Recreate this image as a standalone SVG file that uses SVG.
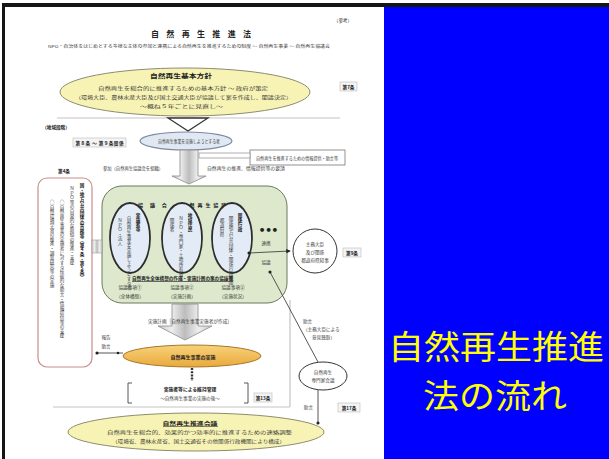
<svg xmlns="http://www.w3.org/2000/svg" width="609" height="459" viewBox="0 0 609 459">
<style>
text{font-family:"Noto Sans CJK JP","Noto Sans CJK SC",sans-serif;fill:#3a3a3a}
.t{font-size:4.6px}
.b{font-weight:bold;fill:#222}
.m{text-anchor:middle}
.v{writing-mode:vertical-rl;font-size:4.6px}
.ln{stroke:#444;stroke-width:0.9;fill:none}
.fr{stroke:#c4c4c4;stroke-width:1.2;fill:none}
.lab{fill:#f4f4f4;stroke:#bbb;stroke-width:0.6}
.ve{fill:#e3ecf6;stroke:#2d2d2d;stroke-width:1.8}
.big{font-size:32.5px;fill:#ffff00;text-anchor:middle}
</style>
<defs>
<linearGradient id="ga" x1="0" y1="0" x2="1" y2="0">
<stop offset="0" stop-color="#c8c8c8"/><stop offset="0.25" stop-color="#eeeeee"/><stop offset="0.5" stop-color="#bcbcbc"/><stop offset="0.75" stop-color="#eeeeee"/><stop offset="1" stop-color="#c8c8c8"/>
</linearGradient>
<linearGradient id="go" x1="0" y1="0" x2="0" y2="1">
<stop offset="0" stop-color="#f7d27a"/><stop offset="1" stop-color="#eaa93c"/>
</linearGradient>
<marker id="ar" viewBox="0 0 6 6" refX="5" refY="3" markerWidth="5" markerHeight="5" orient="auto"><path d="M0,0L6,3L0,6z" fill="#222"/></marker>
<marker id="dt" viewBox="0 0 6 6" refX="3" refY="3" markerWidth="4" markerHeight="4"><circle cx="3" cy="3" r="2.6" fill="#222"/></marker>
</defs>

<rect x="0" y="0" width="609" height="459" fill="#ffffff"/>
<rect x="2" y="3" width="607" height="4" fill="#151515"/>
<rect x="2" y="3" width="3" height="456" fill="#151515"/>

<g id="panel">
<rect x="384" y="7" width="225" height="452" fill="#0000ff"/>
<text x="496" y="359" class="big" textLength="216" lengthAdjust="spacingAndGlyphs">自然再生推進</text>
<text x="495" y="407.5" class="big" textLength="144" lengthAdjust="spacingAndGlyphs">法の流れ</text>
</g>

<g id="header">
<text x="343" y="22" class="t m">（参考）</text>
<text x="201" y="37" class="b m" style="font-size:8px" textLength="100" lengthAdjust="spacing">自然再生推進法</text>
<text x="48" y="48" class="t" style="font-size:4px" textLength="282" lengthAdjust="spacingAndGlyphs">NPO・自治体をはじめとする多様な主体の参加と連携による自然再生を推進するための制度 ～ 自然再生事業 ～ 自然再生協議会</text>
</g>

<g id="frames">
<line x1="57" y1="118" x2="340" y2="118" class="fr"/>
<line x1="53" y1="407" x2="290" y2="407" class="fr"/>
<line x1="290" y1="300" x2="290" y2="407" class="fr"/>
</g>

<g id="kihon-hoshin">
<ellipse cx="185" cy="92" rx="125" ry="24" fill="#f7f3b4" stroke="#8d8c6e" stroke-width="1"/>
<text x="181" y="78" class="b m" style="font-size:6px" textLength="62" lengthAdjust="spacingAndGlyphs">自然再生基本方針</text>
<text x="98" y="90" class="t" textLength="170" lengthAdjust="spacingAndGlyphs">自然再生を総合的に推進するための基本方針 ～ 政府が策定</text>
<text x="75" y="99" class="t" textLength="217" lengthAdjust="spacingAndGlyphs">（環境大臣、農林水産大臣及び国土交通大臣が協議して案を作成し、閣議決定）</text>
<text x="140" y="108" class="t" textLength="83" lengthAdjust="spacingAndGlyphs">～概ね５年ごとに見直し～</text>
<rect x="340" y="82" width="17" height="9" class="lab"/>
<text x="348.5" y="89" class="t m b">第7条</text>
</g>

<g id="triangle">
<path d="M168,118L208,118L188,131Z" fill="#ffffff" stroke="#333" stroke-width="1.3"/>
</g>

<g id="chiiki">
<text x="56" y="129" class="t m b">（地域段階）</text>
<rect x="73" y="138" width="53" height="9" class="lab"/>
<text x="99.5" y="145" class="t m b" textLength="48" lengthAdjust="spacing">第８条 ～ 第９条関係</text>
</g>

<g id="jisshisha">
<ellipse cx="186" cy="141" rx="46" ry="9" fill="#dfe8f3" stroke="#7a8aa0" stroke-width="1.2"/>
<text x="158" y="143" class="t" textLength="62" lengthAdjust="spacingAndGlyphs">自然再生事業を実施しようとする者</text>
</g>

<g id="joho">
<rect x="250" y="150" width="95" height="15" fill="#ffffff" stroke="#777" stroke-width="0.8"/>
<text x="256" y="159.5" class="t" textLength="82" lengthAdjust="spacingAndGlyphs">自然再生を推進するための情報提供・助言等</text>
</g>

<g id="kyogikai">
<rect x="102" y="186" width="185" height="117" rx="20" fill="#dde8cd" stroke="#6c7a5e" stroke-width="1"/>
<text x="190" y="207" class="b m" style="font-size:5px" textLength="104" lengthAdjust="spacing">協 議 会 （自然再生協議会）</text>
<ellipse cx="130" cy="238" rx="20" ry="35" class="ve"/>
<ellipse cx="182" cy="238" rx="20" ry="35" class="ve"/>
<ellipse cx="232" cy="238" rx="20" ry="35" class="ve"/>
<text x="138" y="213" class="v b">実施者等</text>
<text x="129" y="216" class="v">自然再生事業を実施しようとする者</text>
<text x="120" y="218" class="v">ＮＰＯ・法人</text>
<text x="190" y="213" class="v b">地域住民</text>
<text x="181" y="216" class="v">ＮＰＯ・専門家・土地所有者等</text>
<text x="172" y="218" class="v">関係者</text>
<text x="240" y="213" class="v b">関係行政</text>
<text x="231" y="216" class="v">関係地方公共団体・関係行政機関</text>
<text x="222" y="218" class="v">都道府県</text>
<text x="132" y="280" class="b" style="font-size:4.4px" textLength="101" lengthAdjust="spacingAndGlyphs">自然再生全体構想の作成・実施計画の案の協議等</text>
<line x1="132" y1="281.5" x2="233" y2="281.5" stroke="#333" stroke-width="0.7"/>
<text x="130" y="289" class="t m">協議事項①</text>
<text x="130" y="298" class="t m">（全体構想）</text>
<text x="182" y="289" class="t m">協議事項②</text>
<text x="182" y="298" class="t m">（実施計画）</text>
<text x="233" y="289" class="t m">協議事項③</text>
<text x="233" y="298" class="t m">（実施状況）</text>
<text x="268.5" y="231" class="b m" style="font-size:4.2px" textLength="17" lengthAdjust="spacing">●●●</text>
<text x="266" y="245" class="t m">連携</text>
<text x="266" y="264" class="t m">協議</text>
</g>

<g id="shumu">
<circle cx="315" cy="251" r="22" fill="#ffffff" stroke="#333" stroke-width="1"/>
<text x="315" y="246" class="t m">主務大臣</text>
<text x="315" y="254" class="t m">及び関係</text>
<text x="315" y="262" class="t m">都道府県知事</text>
<rect x="343" y="248" width="18" height="9" class="lab"/>
<text x="352" y="255" class="t m b">第9条</text>
</g>

<g id="sekimu">
<text x="64" y="173" class="t m b">第4条</text>
<rect x="38" y="178" width="54" height="189" rx="9" fill="#ffffff" stroke="#c98d8d" stroke-width="1.2"/>
<text x="82" y="183" class="v b">国・地方公共団体の責務等（第４条・第５条）</text>
<text x="72" y="186" class="v">ＮＰＯ等の自発的な取組の推進・支援</text>
<text x="62" y="200" class="v">○自然再生事業の実施者に対する技術的な助言・情報提供等の支援</text>
<text x="52" y="200" class="v">○自然環境学習の推進・調査研究等の実施</text>
</g>

<g id="jigyo">
<ellipse cx="192" cy="356" rx="69" ry="11" fill="url(#go)" stroke="#a7782e" stroke-width="1"/>
<text x="193" y="358.5" class="b m" style="font-size:5px">自然再生事業の実施</text>
</g>

<g id="iji">
<path d="M132,383L128,383L128,403L132,403" class="ln" stroke-width="1.2"/>
<path d="M244,383L248,383L248,403L244,403" class="ln" stroke-width="1.2"/>
<text x="190" y="391" class="b m" style="font-size:4.8px">実施者等による維持管理</text>
<text x="190" y="399.5" class="t m">～自然再生事業の実施の後～</text>
<rect x="254" y="393" width="18" height="9" class="lab"/>
<text x="263" y="400" class="t m b">第13条</text>
</g>

<g id="senmonka">
<ellipse cx="323" cy="376" rx="24" ry="14" fill="#ffffff" stroke="#333" stroke-width="1"/>
<text x="323" y="374" class="t m">自然再生</text>
<text x="323" y="382" class="t m">専門家会議</text>
<rect x="338" y="403" width="22" height="9" class="lab"/>
<text x="349" y="410" class="t m b">第17条</text>
</g>

<g id="suishin-kaigi">
<ellipse cx="196" cy="432" rx="128" ry="19" fill="#f7f3b4" stroke="#8d8c6e" stroke-width="1"/>
<text x="190" y="425" class="b m" style="font-size:5px" textLength="55" lengthAdjust="spacingAndGlyphs">自然再生推進会議</text>
<line x1="163" y1="426.5" x2="218" y2="426.5" stroke="#333" stroke-width="0.6"/>
<text x="107" y="434" class="t" textLength="185" lengthAdjust="spacingAndGlyphs">自然再生を総合的、効果的かつ効率的に推進するための連絡調整</text>
<text x="112" y="443" class="t" textLength="173" lengthAdjust="spacingAndGlyphs">（環境省、農林水産省、国土交通省その他関係行政機関により構成）</text>
</g>

<g id="connectors">
<path d="M180,150L198,150L198,176L206,176L189,184L172,176L180,176Z" fill="url(#ga)" stroke="#8a8a8a" stroke-width="0.8"/>
<rect x="199" y="153" width="51" height="5" fill="#ffffff" stroke="#999" stroke-width="0.8"/>
<text x="103" y="170" class="t" textLength="60" lengthAdjust="spacingAndGlyphs">参加（自然再生協議会を組織）</text>
<text x="207" y="170" class="t" textLength="78" lengthAdjust="spacingAndGlyphs">自然再生の推進、情報提供等の要請</text>
<rect x="92" y="240" width="10" height="13" fill="url(#ga)" stroke="#999" stroke-width="0.6"/>
<path d="M172,304L198,304L198,326L212,326L185,340L158,326L172,326Z" fill="url(#ga)" stroke="#8a8a8a" stroke-width="0.8"/>
<text x="148" y="323" class="t" textLength="84" lengthAdjust="spacingAndGlyphs">実施計画［自然再生事業実施者が作成］</text>
<line x1="249" y1="253" x2="290" y2="251" class="ln" marker-start="url(#dt)" marker-end="url(#ar)"/>
<line x1="97" y1="353" x2="123" y2="353" class="ln" marker-start="url(#dt)"/>
<circle cx="118" cy="353" r="1.3" fill="#222"/>
<text x="106" y="339" class="t m">報告</text>
<text x="106" y="348" class="t m">助言</text>
<line x1="192" y1="368" x2="192" y2="381" stroke="#333" stroke-width="2.4" stroke-dasharray="2 1.2"/>
<line x1="318" y1="362" x2="270" y2="272" class="ln" marker-end="url(#dt)"/>
<text x="303" y="323" class="t">助言</text>
<text x="303" y="331" class="t">（主務大臣による</text>
<text x="312" y="338.5" class="t">意見聴取）</text>
<line x1="318" y1="390" x2="318" y2="423" class="ln" marker-end="url(#dt)"/>
<text x="313" y="409" class="t" text-anchor="end">助言</text>
</g>
</svg>
